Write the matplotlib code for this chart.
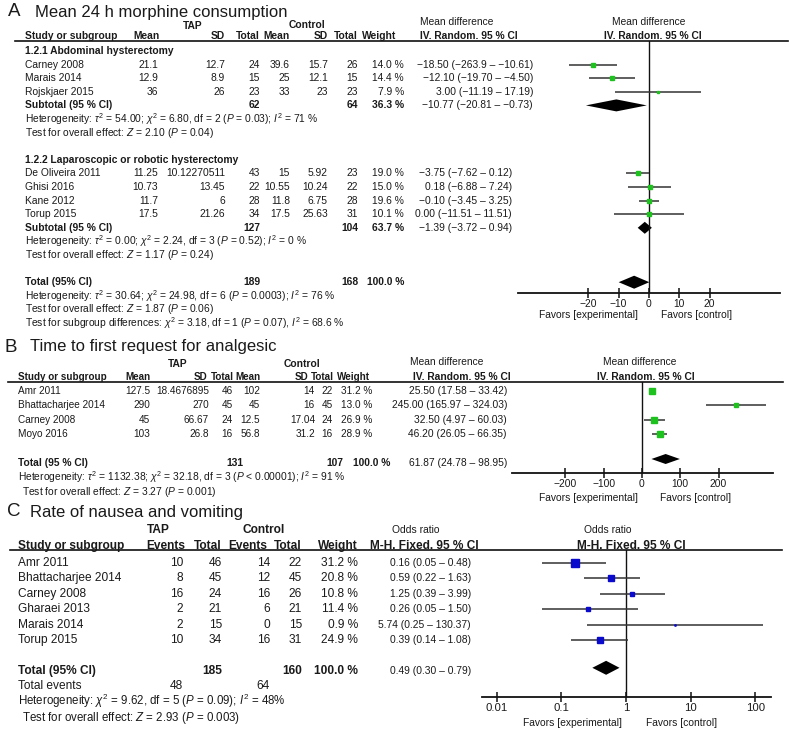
import numpy as np
import matplotlib
matplotlib.use("Agg")
import matplotlib.pyplot as plt
from matplotlib.patches import Polygon

plt.rcParams['font.family'] = ['Liberation Sans', 'DejaVu Sans']
plt.rcParams['mathtext.fontset'] = 'custom'
plt.rcParams['mathtext.rm'] = 'Liberation Sans'
plt.rcParams['mathtext.it'] = 'Liberation Sans:italic'
plt.rcParams['mathtext.bf'] = 'Liberation Sans:bold'

W, H = 790, 732
GREEN = '#1ec21e'
BLUE = '#0a0acc'
LINE = '#333333'
TXT = '#1a1a1a'
M = '\u2212'  # minus sign

# ---------------- Panel A: mean 24 h morphine consumption ----------------
a_groups = ['1.2.1 Abdominal hysterectomy', '1.2.2 Laparoscopic or robotic hysterectomy']
a_study = ['Carney 2008', 'Marais 2014', 'Rojskjaer 2015',
           'De Oliveira 2011', 'Ghisi 2016', 'Kane 2012', 'Torup 2015']
a_tap_mean = ['21.1', '12.9', '36', '11.25', '10.73', '11.7', '17.5']
a_tap_sd = ['12.7', '8.9', '26', '10.12270511', '13.45', '6', '21.26']
a_tap_n = ['24', '15', '23', '43', '22', '28', '34']
a_ctl_mean = ['39.6', '25', '33', '15', '10.55', '11.8', '17.5']
a_ctl_sd = ['15.7', '12.1', '23', '5.92', '10.24', '6.75', '25.63']
a_ctl_n = ['26', '15', '23', '23', '22', '28', '31']
a_weight = [14.0, 14.4, 7.9, 19.0, 15.0, 19.6, 10.1]
a_md = [-18.50, -12.10, 3.00, -3.75, 0.18, -0.10, 0.00]
a_lo = [-26.39, -19.70, -11.19, -7.62, -6.88, -3.45, -11.51]
a_hi = [-10.61, -4.50, 17.19, 0.12, 7.24, 3.25, 11.51]
a_ci_text = [f'{M}18.50 ({M}263.9 \u2013 {M}10.61)', f'{M}12.10 ({M}19.70 \u2013 {M}4.50)',
             f'3.00 ({M}11.19 \u2013 17.19)', f'{M}3.75 ({M}7.62 \u2013 0.12)',
             f'0.18 ({M}6.88 \u2013 7.24)', f'{M}0.10 ({M}3.45 \u2013 3.25)',
             f'0.00 ({M}11.51 \u2013 11.51)']
a_sub_tap_n = ['62', '127']
a_sub_ctl_n = ['64', '104']
a_sub_weight = ['36.3 %', '63.7 %']
a_sub_md = [-10.77, -1.39]
a_sub_lo = [-20.81, -3.72]
a_sub_hi = [-0.73, 0.94]
a_sub_text = [f'{M}10.77 ({M}20.81 \u2013 {M}0.73)', f'{M}1.39 ({M}3.72 \u2013 0.94)']
a_sub_het = [r'Heterogeneity: $\tau^2$ = 54.00; $\chi^2$ = 6.80, df = 2 ($P$ = 0.03); $I^2$ = 71 %',
             r'Heterogeneity: $\tau^2$ = 0.00; $\chi^2$ = 2.24, df = 3 ($P$ = 0.52); $I^2$ = 0 %']
a_sub_test = [r'Test for overall effect: $Z$ = 2.10 ($P$ = 0.04)',
              r'Test for overall effect: $Z$ = 1.17 ($P$ = 0.24)']
a_total = [-4.9, -10.0, 0.1]  # pooled estimate, lower, upper (diamond only)
a_total_n = ['189', '168', '100.0 %']
a_total_notes = [r'Heterogeneity: $\tau^2$ = 30.64; $\chi^2$ = 24.98, df = 6 ($P$ = 0.0003); $I^2$ = 76 %',
                 r'Test for overall effect: $Z$ = 1.87 ($P$ = 0.06)',
                 r'Test for subgroup differences: $\chi^2$ = 3.18, df = 1 ($P$ = 0.07), $I^2$ = 68.6 %']
a_ticks = [-20, -10, 0, 10, 20]

# ---------------- Panel B: time to first request for analgesic ----------------
b_study = ['Amr 2011', 'Bhattacharjee 2014', 'Carney 2008', 'Moyo 2016']
b_tap_mean = ['127.5', '290', '45', '103']
b_tap_sd = ['18.4676895', '270', '66.67', '26.8']
b_tap_n = ['46', '45', '24', '16']
b_ctl_mean = ['102', '45', '12.5', '56.8']
b_ctl_sd = ['14', '16', '17.04', '31.2']
b_ctl_n = ['22', '45', '24', '16']
b_weight = [31.2, 13.0, 26.9, 28.9]
b_md = [25.50, 245.00, 32.50, 46.20]
b_lo = [17.58, 165.97, 4.97, 26.05]
b_hi = [33.42, 324.03, 60.03, 66.35]
b_total = [61.87, 24.78, 98.95]
b_total_n = ['131', '107', '100.0 %']
b_notes = [r'Heterogeneity: $\tau^2$ = 1132.38; $\chi^2$ = 32.18, df = 3 ($P$ < 0.00001); $I^2$ = 91 %',
           r'Test for overall effect: $Z$ = 3.27 ($P$ = 0.001)']
b_ticks = [-200, -100, 0, 100, 200]

# ---------------- Panel C: rate of nausea and vomiting ----------------
c_study = ['Amr 2011', 'Bhattacharjee 2014', 'Carney 2008', 'Gharaei 2013', 'Marais 2014', 'Torup 2015']
c_tap_ev = ['10', '8', '16', '2', '2', '10']
c_tap_n = ['46', '45', '24', '21', '15', '34']
c_ctl_ev = ['14', '12', '16', '6', '0', '16']
c_ctl_n = ['22', '45', '26', '21', '15', '31']
c_weight = [31.2, 20.8, 10.8, 11.4, 0.9, 24.9]
c_or = [0.16, 0.59, 1.25, 0.26, 5.74, 0.39]
c_lo = [0.05, 0.22, 0.39, 0.05, 0.25, 0.14]
c_hi = [0.48, 1.63, 3.99, 1.50, 130.37, 1.08]
c_total = [0.49, 0.30, 0.79]
c_total_n = ['185', '160', '100.0 %']
c_total_events = ['48', '64']
c_notes = [r'Heterogeneity: $\chi^2$ = 9.62, df = 5 ($P$ = 0.09); $I^2$ = 48%',
           r'Test for overall effect: $Z$ = 2.93 ($P$ = 0.003)']
c_ticks = [0.01, 0.1, 1, 10, 100]
c_ticklabels = ['0.01', '0.1', '1', '10', '100']


def fmt(v, d=2):
    s = f'{abs(v):.{d}f}'
    return (M + s) if v < 0 else s


def ci_str(e, lo, hi):
    return f'{fmt(e)} ({fmt(lo)} \u2013 {fmt(hi)})'


fig = plt.figure(figsize=(W / 100, H / 100), dpi=100)
bg = fig.add_axes([0, 0, 1, 1])
bg.set_xlim(0, W)
bg.set_ylim(H, 0)
bg.axis('off')


def t(x, y, s, ha='left', fs=7.4, bold=False, **kw):
    bg.text(x, y, s, ha=ha, va='center', fontsize=fs, color=TXT,
            fontweight='bold' if bold else 'normal', **kw)


def forest_axes(x0, x1, y0, y1):
    ax = fig.add_axes([x0 / W, 1 - y1 / H, (x1 - x0) / W, (y1 - y0) / H])
    ax.set_ylim(y1, y0)
    ax.patch.set_alpha(0)
    for s in ['top', 'right', 'left']:
        ax.spines[s].set_visible(False)
    ax.spines['bottom'].set_linewidth(1.3)
    ax.spines['bottom'].set_color('#111111')
    ax.set_yticks([])
    ax.tick_params(axis='x', direction='inout', length=6.5, width=1.1, color='#111111',
                   pad=1.2, labelcolor=TXT)
    return ax


def diamond(ax, est, lo, hi, y, h):
    ax.add_patch(Polygon([(lo, y), (est, y - h), (hi, y), (est, y + h)],
                         closed=True, color='black', lw=0))


def favors(ax, dx_exp, dx_ctl, dy, fs=7.4):
    x0 = 0 if ax.get_xscale() == 'linear' else 1
    ax.annotate('Favors [experimental]', xy=(x0, 0), xycoords=('data', 'axes fraction'),
                xytext=(dx_exp, dy), textcoords='offset points', ha='right', va='center',
                fontsize=fs, color=TXT)
    ax.annotate('Favors [control]', xy=(x0, 0), xycoords=('data', 'axes fraction'),
                xytext=(dx_ctl, dy), textcoords='offset points', ha='left', va='center',
                fontsize=fs, color=TXT)


# ======================= Panel A =======================
t(8, 12, 'A', fs=13.5)
t(35, 12, 'Mean 24 h morphine consumption', fs=12)
t(193, 26, 'TAP', ha='center', bold=True)
t(307, 25, 'Control', ha='center', bold=True)
t(420, 22, 'Mean difference')
t(612, 22, 'Mean difference')
for x, s, ha in [(25, 'Study or subgroup', 'left'), (133, 'Mean', 'left'), (225, 'SD', 'right'),
                 (260, 'Total', 'right'), (290, 'Mean', 'right'), (328, 'SD', 'right'),
                 (358, 'Total', 'right'), (362, 'Weight', 'left'),
                 (420, 'IV. Random. 95 % CI', 'left'), (604, 'IV. Random. 95 % CI', 'left')]:
    t(x, 36, s, ha=ha, bold=True)
bg.plot([15, 788], [41, 41], color='#111111', lw=1.2)

A0, AS = 51, 13.6
a_cols = [25, 158, 225, 260, 290, 328, 358, 404]
a_group_rows = [[1, 2, 3], [9, 10, 11, 12]]
a_group_head = [0, 8]
a_ci_right = [533, 512]

axA = forest_axes(518, 780, 41, 293)
axA.set_xlim(-43.2, 43.2)
axA.set_xticks(a_ticks)
axA.set_xticklabels([fmt(v, 0) for v in a_ticks], fontsize=7.4)
axA.axvline(0, color='#111111', lw=1.0)

k = 0
for g in range(2):
    t(25, A0 + AS * a_group_head[g], a_groups[g], bold=True)
    for r in a_group_rows[g]:
        y = A0 + AS * r
        vals = [a_study[k], a_tap_mean[k], a_tap_sd[k], a_tap_n[k], a_ctl_mean[k],
                a_ctl_sd[k], a_ctl_n[k], f'{a_weight[k]:.1f} %']
        for j, v in enumerate(vals):
            t(a_cols[j], y, v, ha='left' if j == 0 else 'right')
        t(a_ci_right[g], y, a_ci_text[k], ha='right')
        axA.hlines(y, a_lo[k], a_hi[k], color=LINE, lw=1.1)
        axA.plot(a_md[k], y, 's', ms=0.75 * np.sqrt(a_weight[k]), color=GREEN, mec=GREEN)
        k += 1
    ys = A0 + AS * (a_group_rows[g][-1] + 1)
    t(25, ys, 'Subtotal (95 % CI)', bold=True)
    t(a_cols[3], ys, a_sub_tap_n[g], ha='right', bold=True)
    t(a_cols[6], ys, a_sub_ctl_n[g], ha='right', bold=True)
    t(a_cols[7], ys, a_sub_weight[g], ha='right', bold=True)
    t(a_ci_right[g], ys, a_sub_text[g], ha='right')
    diamond(axA, a_sub_md[g], a_sub_lo[g], a_sub_hi[g], ys, 6)
    t(25, ys + AS, a_sub_het[g])
    t(25, ys + 2 * AS, a_sub_test[g])

yt = A0 + AS * 17
t(25, yt, 'Total (95% CI)', bold=True)
t(a_cols[3], yt, a_total_n[0], ha='right', bold=True)
t(a_cols[6], yt, a_total_n[1], ha='right', bold=True)
t(a_cols[7], yt, a_total_n[2], ha='right', bold=True)
diamond(axA, a_total[0], a_total[1], a_total[2], yt, 6.5)
for i, s in enumerate(a_total_notes):
    t(25, yt + AS * (i + 1), s)
favors(axA, -8, 8.5, -15.5)

# ======================= Panel B =======================
t(5, 347, 'B', fs=13.5)
t(30, 347, 'Time to first request for analgesic', fs=12)
t(178, 364, 'TAP', ha='center', bold=True)
t(302, 364, 'Control', ha='center', bold=True)
t(410, 362, 'Mean difference')
t(603, 362, 'Mean difference')
for x, s, ha in [(18, 'Study or subgroup', 'left'), (125, 'Mean', 'left'), (207, 'SD', 'right'),
                 (234, 'Total', 'right'), (261, 'Mean', 'right'), (308, 'SD', 'right'),
                 (334, 'Total', 'right'), (337, 'Weight', 'left')]:
    t(x, 377, s, ha=ha, fs=7.1, bold=True)
t(413, 377, 'IV. Random. 95 % CI', bold=True)
t(597, 377, 'IV. Random. 95 % CI', bold=True)
bg.plot([8, 783], [382, 382], color='#111111', lw=1.2)

B0, BS = 391, 14.4
b_cols = [18, 150, 209, 233, 260, 315, 333, 372]
axB = forest_axes(512, 773, 382, 473)
axB.set_xlim(-339, 342)
axB.set_xticks(b_ticks)
axB.set_xticklabels([fmt(v, 0) for v in b_ticks], fontsize=7.4)
axB.axvline(0, color='#111111', lw=1.0)
for i in range(len(b_study)):
    y = B0 + BS * i
    vals = [b_study[i], b_tap_mean[i], b_tap_sd[i], b_tap_n[i], b_ctl_mean[i],
            b_ctl_sd[i], b_ctl_n[i], f'{b_weight[i]:.1f} %']
    for j, v in enumerate(vals):
        t(b_cols[j], y, v, ha='left' if j == 0 else 'right', fs=7.2)
    t(507, y, ci_str(b_md[i], b_lo[i], b_hi[i]), ha='right')
    axB.hlines(y, b_lo[i], b_hi[i], color=LINE, lw=1.1)
    axB.plot(b_md[i], y, 's', ms=0.78 * np.sqrt(b_weight[i]), color=GREEN, mec=GREEN)
yt = B0 + BS * 5
t(18, yt, 'Total (95 % CI)', bold=True)
t(243, yt, b_total_n[0], ha='right', bold=True)
t(343, yt, b_total_n[1], ha='right', bold=True)
t(390, yt, b_total_n[2], ha='right', bold=True)
t(507, yt, ci_str(*b_total), ha='right')
diamond(axB, b_total[0], b_total[1], b_total[2], yt - 4, 5)
t(18, yt + BS, b_notes[0])
t(22, yt + 2 * BS, b_notes[1])
favors(axB, -3, 13, -18)

# ======================= Panel C =======================
FC = 8.6
t(7, 512, 'C', fs=13.5)
t(30, 512, 'Rate of nausea and vomiting', fs=12)
t(158, 530, 'TAP', ha='center', fs=FC, bold=True)
t(264, 530, 'Control', ha='center', fs=FC, bold=True)
t(392, 530, 'Odds ratio', fs=7.4)
t(584, 530, 'Odds ratio', fs=7.4)
for x, s, ha in [(18, 'Study or subgroup', 'left'), (185, 'Events', 'right'), (222, 'Total', 'right'),
                 (267, 'Events', 'right'), (302, 'Total', 'right'), (358, 'Weight', 'right'),
                 (370, 'M-H. Fixed. 95 % CI', 'left'), (577, 'M-H. Fixed. 95 % CI', 'left')]:
    t(x, 546, s, ha=ha, fs=FC, bold=True)
bg.plot([10, 782], [550, 550], color='#111111', lw=1.2)

C0, CS = 563, 15.4
c_cols = [18, 183, 222, 270, 302, 358]
axC = forest_axes(482, 771, 550, 697)
axC.set_xscale('log')
axC.set_xlim(0.0059, 174)
axC.set_xticks(c_ticks)
axC.set_xticklabels(c_ticklabels, fontsize=8.2)
axC.minorticks_off()
axC.axvline(1, color='#111111', lw=1.0)
for i in range(len(c_study)):
    y = C0 + CS * i
    vals = [c_study[i], c_tap_ev[i], c_tap_n[i], c_ctl_ev[i], c_ctl_n[i], f'{c_weight[i]:.1f} %']
    for j, v in enumerate(vals):
        t(c_cols[j], y, v, ha='left' if j == 0 else 'right', fs=FC)
    t(471, y, ci_str(c_or[i], c_lo[i], c_hi[i]), ha='right')
    axC.hlines(y, c_lo[i], c_hi[i], color=LINE, lw=1.1)
    axC.plot(c_or[i], y, 's', ms=0.95 * np.sqrt(c_weight[i]), color=BLUE, mec=BLUE)
yt = C0 + CS * 7
t(18, yt, 'Total (95% CI)', fs=FC, bold=True)
t(c_cols[2], yt, c_total_n[0], ha='right', fs=FC, bold=True)
t(c_cols[4], yt, c_total_n[1], ha='right', fs=FC, bold=True)
t(c_cols[5], yt, c_total_n[2], ha='right', fs=FC, bold=True)
t(471, yt, ci_str(*c_total), ha='right')
diamond(axC, c_total[0], c_total[1], c_total[2], yt - 3, 7)
t(18, yt + CS, 'Total events', fs=FC)
t(c_cols[1], yt + CS, c_total_events[0], ha='right', fs=FC)
t(c_cols[3], yt + CS, c_total_events[1], ha='right', fs=FC)
t(18, yt + 2 * CS - 0.5, c_notes[0], fs=8.3)
t(22, yt + 3 * CS + 1, c_notes[1], fs=8.3)
favors(axC, -3, 14, -19)

fig.savefig('out.png', dpi=100)
